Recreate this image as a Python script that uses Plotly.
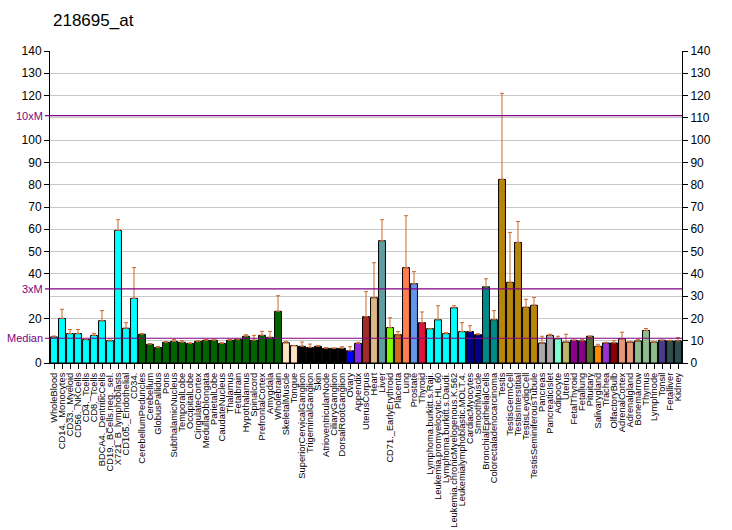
import plotly.graph_objects as go

categories = [
    "WholeBlood", "CD14._Monocytes", "CD33._Myeloid", "CD56._NKCells", "CD4._Tcells",
    "CD8._Tcells", "BDCA4._DentriticCells", "CD19._BCells.neg._sel.", "X721_B_lymphoblasts",
    "CD105._Endothelial", "CD34.", "CerebellumPeduncles", "Cerebellum", "GlobusPallidus",
    "Pons", "SubthalamicNucleus", "TemporalLobe", "OccipitalLobe", "CingulateCortex",
    "MedullaOblongata", "ParietalLobe", "CaudateNucleus", "Thalamus", "Fetalbrain",
    "Hypothalamus", "Spinalcord", "PrefrontalCortex", "Amygdala", "Wholebrain",
    "SkeletalMuscle", "Tongue", "SuperiorCervicalGanglion", "TrigeminalGanglion", "Skin",
    "AtrioventricularNode", "CiliaryGanglion", "DorsalRootGanglion", "Ovary", "Appendix",
    "UterusCorpus", "Heart", "Liver", "CD71._EarlyErythroid", "Placenta", "Lung",
    "Prostate", "Thyroid", "Lymphoma.burkitt.s.Raji.", "Leukemia.promyelocytic.HL.60",
    "Lymphoma.burkitt.s.Daudi.", "Leukemia.chronicMyelogenous.K.562",
    "Leukemialymphoblastic.MOLT.4.", "CardiacMyocytes", "SmoothMuscle",
    "BronchialEpithelialCells", "Colorectaladenocarcinoma", "Testis", "TestisGermCell",
    "TestisInterstitial", "TestisLeydigCell", "TestisSeminiferousTubule", "Pancreas",
    "PancreaticIslet", "Adipocyte", "Uterus", "FetalThyroid", "Fetallung", "Pituitary",
    "Salivarygland", "Trachea", "OlfactoryBulb", "AdrenalCortex", "Adrenalgland",
    "Bonemarrow", "Thymus", "Lymphnode", "Tonsil", "Fetalliver", "Kidney",
]

values = [
    11.7, 20.0, 13.2, 13.2, 10.5, 12.4, 19.0, 10.0, 59.5, 15.6, 29.0,
    12.9, 8.4, 7.0, 9.3, 9.7, 9.3, 8.8, 9.7, 10.2, 10.2, 8.8, 10.2, 10.5,
    12.0, 10.2, 12.4, 11.5, 23.2,
    9.1, 7.8, 7.5, 7.0, 7.5, 6.6, 6.6, 6.6, 5.5, 8.8,
    20.8, 29.3, 54.9, 15.9, 12.7, 42.8, 35.6, 18.1,
    15.4, 19.4, 13.2, 24.8, 14.1, 14.1, 12.7, 34.2, 19.4,
    82.4, 36.2, 54.1, 25.0, 25.9,
    9.0, 12.4, 10.9, 9.4, 10.2, 9.9, 12.0, 7.5, 9.0, 9.0, 10.9, 9.4,
    9.9, 14.6, 9.4, 10.2, 9.9, 9.9,
]

error_upper = [
    0.4, 4.1, 1.8, 1.8, 0.0, 0.9, 4.5, 0.3, 4.8, 2.5, 13.8,
    0.3, 0.3, 0.4, 0.3, 0.8, 0.7, 0.2, 0.3, 0.3, 0.2, 0.3, 0.3, 0.2,
    0.7, 2.2, 1.8, 2.7, 7.0,
    0.5, 0.0, 1.9, 1.5, 0.3, 0.3, 0.0, 0.7, 1.8, 0.5,
    11.2, 15.7, 9.4, 4.4, 1.4, 23.3, 5.4, 4.8,
    0.0, 6.3, 0.4, 0.9, 4.0, 2.6, 0.4, 3.6, 4.1,
    38.6, 22.4, 9.4, 3.6, 3.5,
    3.0, 0.5, 1.1, 3.5, 0.0, 0.7, 0.0, 0.9, 0.3, 1.0, 2.9, 0.3,
    0.6, 0.9, 0.0, 0.0, 0.3, 1.5,
]

colors = (
    ["#00FFFF"] * 11 + ["#006400"] * 18 + ["#FFE4C4"] * 2 + ["#000000"] * 6
    + ["#0000FF", "#8A2BE2", "#A52A2A", "#DEB887", "#5F9EA0", "#7CFC00", "#D2691E",
       "#FF7F50", "#6495ED", "#DC143C"]
    + ["#00FFFF"] * 5 + ["#00008B"] * 2 + ["#008B8B"] * 2 + ["#B8860B"] * 5
    + ["#A9A9A9"] * 2 + ["#7FFFD4", "#BDB76B", "#8B008B", "#8B008B", "#556B2F",
                         "#FF8C00", "#9932CC", "#8B0000", "#E9967A", "#E9967A"]
    + ["#8FBC8F"] * 3 + ["#483D8B"] + ["#2F4F4F"] * 2
)

median = 11.1
ref_lines = [("10xM", median * 10), ("3xM", median * 3), ("Median", median)]
left_ticks = [0, 20, 40, 50, 60, 70, 80, 90, 100, 120, 130, 140]
right_ticks = list(range(0, 141, 10))

FONT = "Liberation Sans, Arial, sans-serif"

fig = go.Figure()
fig.add_trace(go.Bar(
    x=categories, y=values,
    marker=dict(color=colors, line=dict(color="#000000", width=1)),
    error_y=dict(type="data", symmetric=False, array=error_upper,
                 arrayminus=[0] * len(values), color="#C8692E", thickness=1, width=2),
    showlegend=False, hoverinfo="x+y",
))
fig.add_trace(go.Scatter(
    x=[categories[0]], y=[0], yaxis="y2", mode="markers",
    marker=dict(opacity=0), showlegend=False, hoverinfo="skip",
))

shapes = []
annotations = []
for name, v in ref_lines:
    shapes.append(dict(type="line", xref="paper", yref="y", x0=-0.008, x1=1,
                       y0=v, y1=v, line=dict(color="#800080", width=1.2), layer="above"))
    annotations.append(dict(xref="paper", yref="y", x=-0.009, y=v, text=name,
                            showarrow=False, xanchor="right", yanchor="middle",
                            xshift=1,
                            font=dict(family=FONT, size=11, color="#800080")))

fig.update_layout(
    width=732, height=530,
    margin=dict(l=50, r=50, t=51, b=167, autoexpand=False),
    paper_bgcolor="white", plot_bgcolor="white",
    title=dict(text="218695_at", x=53 / 732, xanchor="left", y=1 - 20 / 530,
               yanchor="middle", automargin=False,
               font=dict(family=FONT, size=17, color="#000000")),
    bargap=0.14,
    xaxis=dict(
        tickmode="array", tickvals=categories, ticktext=categories,
        tickangle=-90, tickfont=dict(family=FONT, size=9.3, color="#000000"),
        showline=True, linecolor="#000000", linewidth=1,
        ticks="outside", ticklen=5, tickcolor="#000000",
        showgrid=False, range=[-0.5, len(categories) - 0.5], automargin=False,
    ),
    yaxis=dict(
        range=[0, 140], tickvals=left_ticks, ticks="outside", ticklen=5,
        tickcolor="#000000", showline=True, linecolor="#000000", linewidth=1,
        tickfont=dict(family=FONT, size=12, color="#000000"),
        showgrid=False, zeroline=False, automargin=False,
    ),
    yaxis2=dict(
        range=[0, 140], tickvals=right_ticks, overlaying="y", side="right",
        ticks="outside", ticklen=5, tickcolor="#000000", showline=True,
        linecolor="#000000", linewidth=1,
        tickfont=dict(family=FONT, size=12, color="#000000"),
        showgrid=True, gridcolor="#C8C8C8", gridwidth=1, zeroline=False,
        automargin=False,
    ),
    shapes=shapes,
    annotations=annotations,
)

# remove the browser's default 8px body margin so the figure sits at the page corner
fig.write_html("out.html",
               config={"displayModeBar": False},
               post_script="document.body.style.margin='0';document.body.style.overflow='hidden';")
